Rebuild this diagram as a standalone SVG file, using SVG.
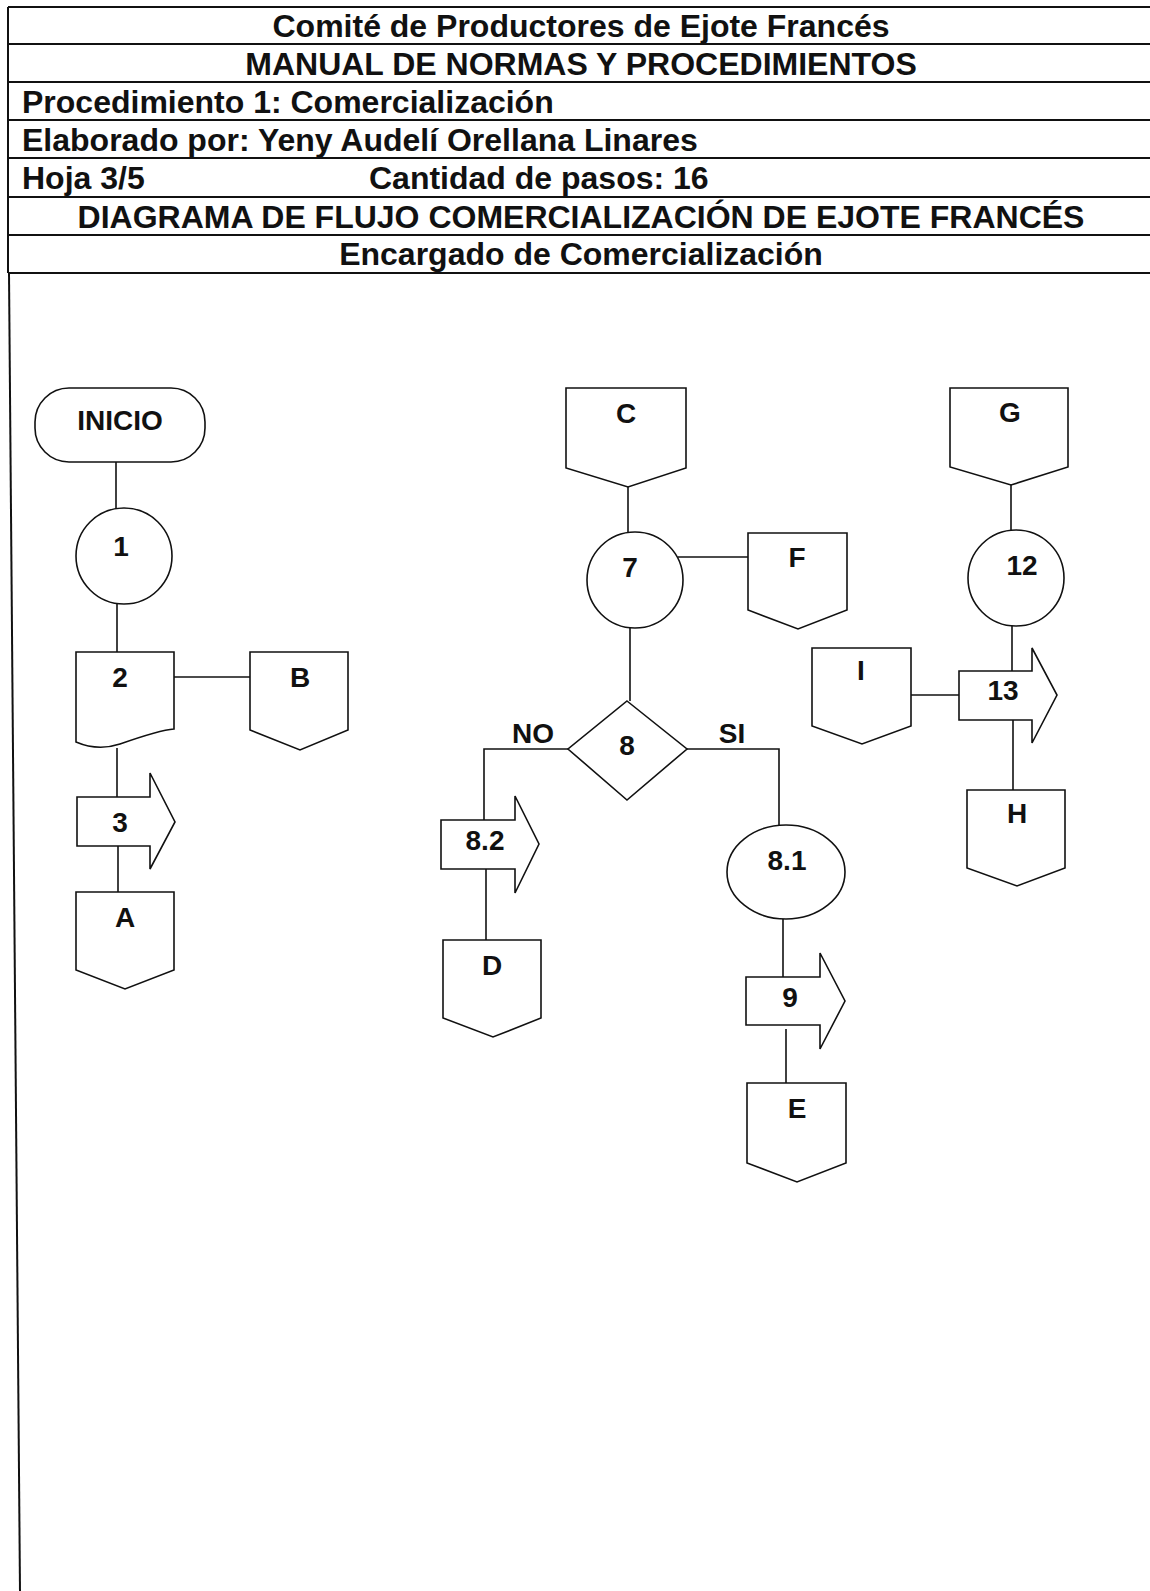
<svg xmlns="http://www.w3.org/2000/svg" width="1150" height="1591" viewBox="0 0 1150 1591">
<style>
.hl{stroke:#111;stroke-width:2;fill:none}
.sh{stroke:#111;stroke-width:1.6;fill:#fff}
.cn{stroke:#111;stroke-width:1.6;fill:none}
.ht{font-family:"Liberation Sans",Arial,sans-serif;font-weight:bold;font-size:32px;fill:#111}
.hc{text-anchor:middle}
.lb{font-family:"Liberation Sans",Arial,sans-serif;font-weight:bold;font-size:28px;fill:#111;text-anchor:middle}
</style>
<rect width="1150" height="1591" fill="#fff"/>
<g id="header">
<line class="hl" x1="8" y1="7" x2="1150" y2="7"/>
<line class="hl" x1="8" y1="44" x2="1150" y2="44"/>
<line class="hl" x1="8" y1="82" x2="1150" y2="82"/>
<line class="hl" x1="8" y1="120" x2="1150" y2="120"/>
<line class="hl" x1="8" y1="158" x2="1150" y2="158"/>
<line class="hl" x1="8" y1="197" x2="1150" y2="197"/>
<line class="hl" x1="8" y1="235" x2="1150" y2="235"/>
<line class="hl" x1="8" y1="273" x2="1150" y2="273"/>
<line class="hl" x1="8" y1="7" x2="8" y2="273"/>
<line class="hl" x1="9" y1="273" x2="20" y2="1591"/>
<text class="ht hc" x="581" y="37">Comité de Productores de Ejote Francés</text>
<text class="ht hc" x="581" y="75">MANUAL DE NORMAS Y PROCEDIMIENTOS</text>
<text class="ht" x="22" y="113">Procedimiento 1: Comercialización</text>
<text class="ht" x="22" y="151">Elaborado por: Yeny Audelí Orellana Linares</text>
<text class="ht" x="22" y="189">Hoja 3/5</text>
<text class="ht" x="369" y="189">Cantidad de pasos: 16</text>
<text class="ht hc" x="581" y="228">DIAGRAMA DE FLUJO COMERCIALIZACIÓN DE EJOTE FRANCÉS</text>
<text class="ht hc" x="581" y="265">Encargado de Comercialización</text>
</g>
<g id="connectors">
<line class="cn" x1="116" y1="462" x2="116" y2="508"/>
<line class="cn" x1="117" y1="603" x2="117" y2="652"/>
<line class="cn" x1="174" y1="677" x2="250" y2="677"/>
<line class="cn" x1="117" y1="748" x2="117" y2="797"/>
<line class="cn" x1="118" y1="846" x2="118" y2="892"/>
<line class="cn" x1="628" y1="487" x2="628" y2="533"/>
<line class="cn" x1="678" y1="557" x2="748" y2="557"/>
<line class="cn" x1="630" y1="628" x2="630" y2="701"/>
<polyline class="cn" points="568,749 484,749 484,820"/>
<polyline class="cn" points="687,749 779,749 779,825"/>
<line class="cn" x1="486" y1="869" x2="486" y2="940"/>
<line class="cn" x1="783" y1="919" x2="783" y2="977"/>
<line class="cn" x1="786" y1="1029" x2="786" y2="1083"/>
<line class="cn" x1="1011" y1="485" x2="1011" y2="531"/>
<line class="cn" x1="1012" y1="624" x2="1012" y2="671"/>
<line class="cn" x1="911" y1="695" x2="959" y2="695"/>
<line class="cn" x1="1013" y1="720" x2="1013" y2="790"/>
</g>
<g id="n-inicio">
<rect class="sh" x="35" y="388" width="170" height="74" rx="34" ry="34"/>
<text class="lb" x="120" y="430">INICIO</text>
</g>
<g id="n-1">
<circle class="sh" cx="124" cy="556" r="48"/>
<text class="lb" x="121" y="556">1</text>
</g>
<g id="n-2">
<path class="sh" d="M76,652 H174 V729 C160,730 140,737 120,744 C105,749 90,748 76,742 Z"/>
<text class="lb" x="120" y="687">2</text>
</g>
<g id="n-B">
<polygon class="sh" points="250,652 348,652 348,730 300,750 250,730"/>
<text class="lb" x="300" y="687">B</text>
</g>
<g id="n-3">
<polygon class="sh" points="77,797 150,797 150,773 175,822 150,869 150,846 77,846"/>
<text class="lb" x="120" y="832">3</text>
</g>
<g id="n-A">
<polygon class="sh" points="76,892 174,892 174,970 125,989 76,970"/>
<text class="lb" x="125" y="927">A</text>
</g>
<g id="n-C">
<polygon class="sh" points="566,388 686,388 686,468 628,487 566,468"/>
<text class="lb" x="626" y="423">C</text>
</g>
<g id="n-7">
<circle class="sh" cx="635" cy="580" r="48"/>
<text class="lb" x="630" y="577">7</text>
</g>
<g id="n-F">
<polygon class="sh" points="748,533 847,533 847,610 798,629 748,610"/>
<text class="lb" x="797" y="567">F</text>
</g>
<g id="n-8">
<polygon class="sh" points="627,701 687,749 627,800 568,749"/>
<text class="lb" x="627" y="755">8</text>
</g>
<text class="lb" x="533" y="743">NO</text>
<text class="lb" x="732" y="743">SI</text>
<g id="n-8-2">
<polygon class="sh" points="441,820 515,820 515,796 539,844 515,893 515,869 441,869"/>
<text class="lb" x="485" y="850">8.2</text>
</g>
<g id="n-D">
<polygon class="sh" points="443,940 541,940 541,1018 493,1037 443,1018"/>
<text class="lb" x="492" y="975">D</text>
</g>
<g id="n-8-1">
<ellipse class="sh" cx="786" cy="872" rx="59" ry="47"/>
<text class="lb" x="787" y="870">8.1</text>
</g>
<g id="n-9">
<polygon class="sh" points="746,977 820,977 820,953 845,1001 820,1049 820,1025 746,1025"/>
<text class="lb" x="790" y="1007">9</text>
</g>
<g id="n-E">
<polygon class="sh" points="747,1083 846,1083 846,1163 797,1182 747,1163"/>
<text class="lb" x="797" y="1118">E</text>
</g>
<g id="n-G">
<polygon class="sh" points="950,388 1068,388 1068,467 1011,485 950,467"/>
<text class="lb" x="1010" y="422">G</text>
</g>
<g id="n-12">
<circle class="sh" cx="1016" cy="578" r="48"/>
<text class="lb" x="1022" y="575">12</text>
</g>
<g id="n-I">
<polygon class="sh" points="812,648 911,648 911,726 862,744 812,726"/>
<text class="lb" x="861" y="680">I</text>
</g>
<g id="n-13">
<polygon class="sh" points="959,671 1032,671 1032,648 1057,695 1032,743 1032,720 959,720"/>
<text class="lb" x="1003" y="700">13</text>
</g>
<g id="n-H">
<polygon class="sh" points="967,790 1065,790 1065,868 1017,886 967,868"/>
<text class="lb" x="1017" y="823">H</text>
</g>
</svg>
